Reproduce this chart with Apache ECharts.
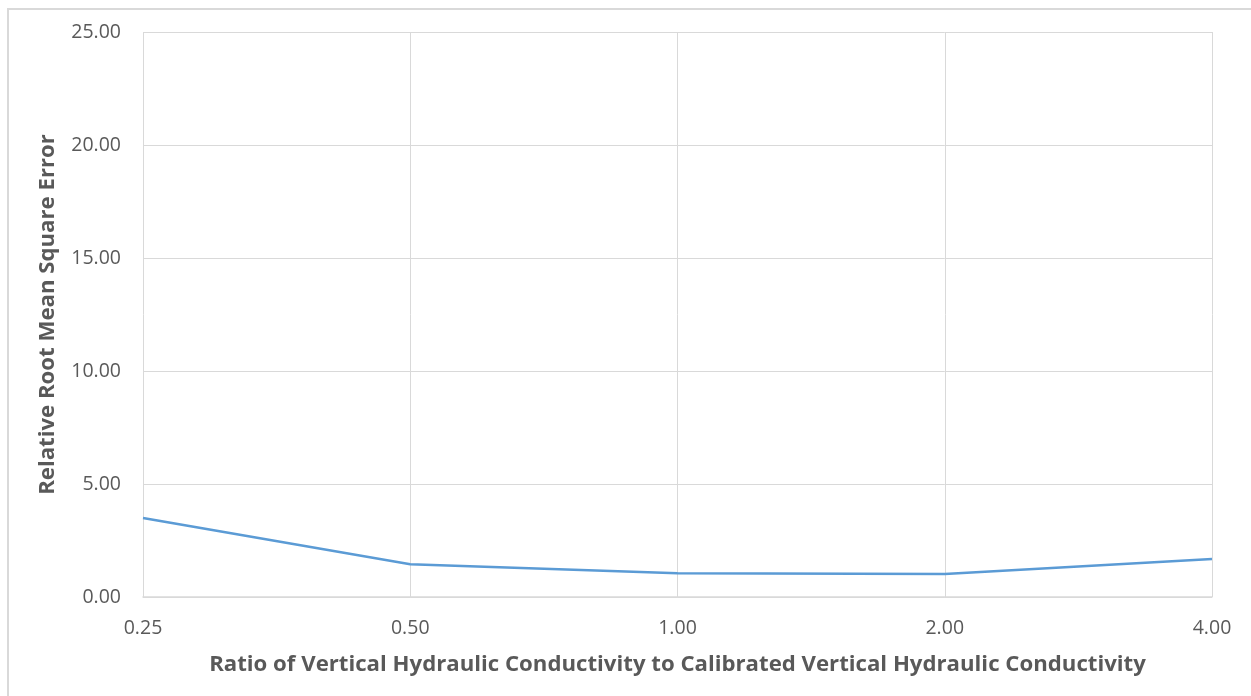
<!DOCTYPE html>
<html><head><meta charset="utf-8">
<script src="https://cdn.jsdelivr.net/npm/echarts@6/dist/echarts.min.js"></script>
<style>html,body{margin:0;padding:0;background:#fff}#c{width:1251px;height:696px}
#frame{position:absolute;left:7px;top:8px;width:1250px;height:700px;border:2px solid #d9d9d9;box-sizing:border-box;pointer-events:none}</style>
</head><body><div id="c"></div><div id="frame"></div>
<script>
const categories = ['0.25', '0.50', '1.00', '2.00', '4.00'];
const rrmse = [3.50, 1.45, 1.05, 1.02, 1.68];
const yTicks = {min: 0, max: 25, interval: 5};
const xTitle = 'Ratio of Vertical Hydraulic Conductivity to Calibrated Vertical Hydraulic Conductivity';
const yTitle = 'Relative Root Mean Square Error';

const chart = echarts.init(document.getElementById('c'), null, {renderer: 'canvas'});
const font = '"Open Sans", "Liberation Sans", sans-serif';
chart.setOption({
  animation: false,
  backgroundColor: '#fff',
  grid: {left: 143, right: 39, top: 32, bottom: 99, containLabel: false},
  xAxis: {
    type: 'category', data: categories, boundaryGap: false,
    name: xTitle, nameLocation: 'middle', nameGap: 57,
    nameTextStyle: {fontFamily: font, fontSize: 22.2, fontWeight: 'bold', color: '#595959'},
    axisLine: {lineStyle: {color: '#d9d9d9', width: 1.5}},
    axisTick: {show: false},
    axisLabel: {fontFamily: font, fontSize: 19.5, color: '#595959', margin: 21},
    splitLine: {show: true, lineStyle: {color: '#d9d9d9', width: 1}}
  },
  yAxis: {
    type: 'value', min: yTicks.min, max: yTicks.max, interval: yTicks.interval,
    name: yTitle, nameLocation: 'middle', nameGap: 84, nameRotate: 90,
    nameTextStyle: {fontFamily: font, fontSize: 22.2, fontWeight: 'bold', color: '#595959'},
    axisLine: {show: false}, axisTick: {show: false},
    axisLabel: {fontFamily: font, fontSize: 19.5, color: '#595959', margin: 22,
      formatter: v => v.toFixed(2)},
    splitLine: {lineStyle: {color: '#d9d9d9', width: 1}}
  },
  series: [{
    type: 'line', data: rrmse, showSymbol: false, symbol: 'none',
    lineStyle: {color: '#5b9bd5', width: 2.5}
  }]
});
</script></body></html>
